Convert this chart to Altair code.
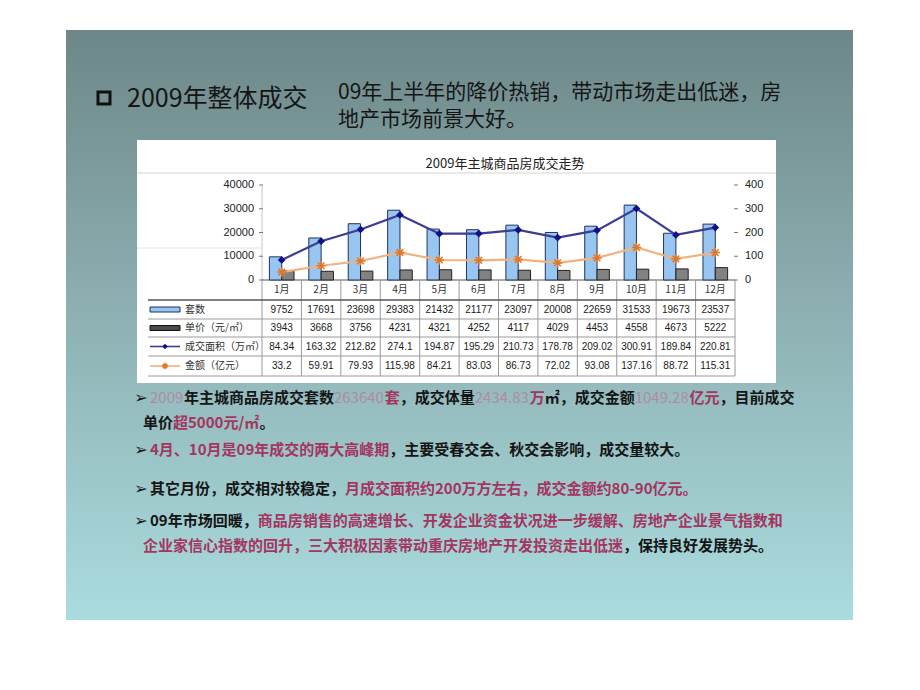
import altair as alt
import pandas as pd

# ---------------- data ----------------
months = ["1月", "2月", "3月", "4月", "5月", "6月", "7月", "8月", "9月", "10月", "11月", "12月"]
taoshu = [9752, 17691, 23698, 29383, 21432, 21177, 23097, 20008, 22659, 31533, 19673, 23537]
danjia = [3943, 3668, 3756, 4231, 4321, 4252, 4117, 4029, 4453, 4558, 4673, 5222]
mianji = [84.34, 163.32, 212.82, 274.1, 194.87, 195.29, 210.73, 178.78, 209.02, 300.91, 189.84, 220.81]
jine = [33.2, 59.91, 79.93, 115.98, 84.21, 83.03, 86.73, 72.02, 93.08, 137.16, 88.72, 115.31]
mianji_text = ["84.34", "163.32", "212.82", "274.1", "194.87", "195.29", "210.73", "178.78", "209.02", "300.91", "189.84", "220.81"]
jine_text = ["33.2", "59.91", "79.93", "115.98", "84.21", "83.03", "86.73", "72.02", "93.08", "137.16", "88.72", "115.31"]
left_ticks = [0, 10000, 20000, 30000, 40000]
right_ticks = [0, 100, 200, 300, 400]
series_names = ["套数", "单价（元/㎡）", "成交面积（万㎡）", "金额（亿元）"]
chart_title = "2009年主城商品房成交走势"
heading = "2009年整体成交"
subheading = ["09年上半年的降价热销，带动市场走出低迷，房", "地产市场前景大好。"]
bullet_lines = [
    [("2009", "n"), ("年主城商品房成交套数", "k"), ("263640", "n"), ("套", "p"), ("，成交体量", "k"),
     ("2434.83", "n"), ("万", "p"), ("㎡，成交金额", "k"), ("1049.28", "n"), ("亿元", "p"), ("，目前成交", "k")],
    [("单价", "k"), ("超5000元/㎡", "p"), ("。", "k")],
    [("4月、10月是09年成交的两大高峰期", "p"), ("，主要受春交会、秋交会影响，成交量较大。", "k")],
    [("其它月份，成交相对较稳定，", "k"), ("月成交面积约200万方左右，成交金额约80-90亿元。", "p")],
    [("09年市场回暖，", "k"), ("商品房销售的高速增长、开发企业资金状况进一步缓解、房地产企业景气指数和", "p")],
    [("企业家信心指数的回升，三大积极因素带动重庆房地产开发投资走出低迷", "p"), ("，保持良好发展势头。", "k")],
]

# ---------------- layout ----------------
CJK = "Noto Sans CJK SC"
X0, X1 = 262, 735
Y0, Y1 = 280, 185
row_y = [309.5, 328, 346.5, 366]
hlines = [300, 319, 337, 356, 376]
bullet_pos = [(150, 398, True), (143, 423, False), (150, 450, True), (150, 489, True), (150, 521, True), (143, 546, False)]
styles = {"k": ("#151515", "bold"), "p": ("#A3355F", "bold"), "n": ("#B08CA0", "normal")}
BFS = 15

one = pd.DataFrame({"d": [0]})
xs = alt.Scale(type="band", domain=months, range=[X0, X1], paddingInner=0, paddingOuter=0)
ys_left = alt.Scale(domain=[0, 40000], range=[Y0, Y1], nice=False, zero=True)
ys_right = alt.Scale(domain=[0, 400], range=[Y0, Y1], nice=False, zero=True)
XM = alt.X("month:N", scale=xs, axis=None, sort=months)

STAR = "M-1,0L1,0M0,-1L0,1M-0.7,-0.7L0.7,0.7M-0.7,0.7L0.7,-0.7"


def box(x, x2, y, y2, **mk):
    return alt.Chart(one).mark_rect(**mk).encode(
        x=alt.value(x), x2=alt.value(x2), y=alt.value(y), y2=alt.value(y2))


def hrule(x, x2, y, **mk):
    return alt.Chart(one).mark_rule(**mk).encode(x=alt.value(x), x2=alt.value(x2), y=alt.value(y))


def label(txt, x, y, **mk):
    return alt.Chart(one).mark_text(text=txt, **mk).encode(x=alt.value(x), y=alt.value(y))


def text_width(s, size, bold):
    w = 0.0
    for ch in s:
        if ch.isdigit():
            w += (0.59 if bold else 0.565) * size
        elif ch == ".":
            w += (0.3 if bold else 0.27) * size
        elif ch == "-":
            w += 0.36 * size
        elif ch == "/":
            w += 0.4 * size
        elif ord(ch) < 0x2000:
            w += 0.58 * size
        else:
            w += size
    return w


L = []
# slide background
L.append(box(66, 853, 30, 620, fill=alt.LinearGradient(
    gradient="linear",
    stops=[alt.GradientStop(color="#6D8788", offset=0),
           alt.GradientStop(color="#8CAEB0", offset=0.45),
           alt.GradientStop(color="#AADCDF", offset=1)],
    x1=0, x2=0, y1=0, y2=1)))

# heading
L.append(box(98, 110, 92, 104, fill="transparent", stroke="#101010", strokeWidth=3))
L.append(label(heading, 127, 99, font=CJK, fontSize=25, align="left", baseline="middle", color="#151515"))
L.append(label(subheading[0], 338, 93, font=CJK, fontSize=21, align="left", baseline="middle", color="#151515"))
L.append(label(subheading[1], 338, 120, font=CJK, fontSize=21, align="left", baseline="middle", color="#151515"))

# chart white box
L.append(box(137, 776, 140, 383, fill="white"))
L.append(hrule(137, 776, 173, color="#D4D4D4", strokeWidth=1))
L.append(hrule(137, 262, 248, color="#E4E4E4", strokeWidth=1))
L.append(label(chart_title, 505, 164, font=CJK, fontSize=13, align="center", baseline="middle", color="#222222"))

# axes
L.append(alt.Chart(one).mark_rule(color="#C8C8C8").encode(x=alt.value(X0), y=alt.value(Y1), y2=alt.value(Y0)))
L.append(hrule(X0, X1, Y0, color="#555555", strokeWidth=1))
lt = pd.DataFrame({"t": left_ticks})
rt = pd.DataFrame({"t": right_ticks})
L.append(alt.Chart(lt).mark_text(font="Liberation Sans", fontSize=11, align="right", baseline="middle", color="#222")
         .encode(y=alt.Y("t:Q", scale=ys_left, axis=None), x=alt.value(254), text="t:Q"))
L.append(alt.Chart(lt).mark_rule(color="#777").encode(y=alt.Y("t:Q", scale=ys_left, axis=None), x=alt.value(259), x2=alt.value(263)))
L.append(alt.Chart(rt).mark_text(font="Liberation Sans", fontSize=11, align="left", baseline="middle", color="#222")
         .encode(y=alt.Y("t:Q", scale=ys_right, axis=None), x=alt.value(745), text="t:Q"))
L.append(alt.Chart(rt).mark_rule(color="#777").encode(y=alt.Y("t:Q", scale=ys_right, axis=None), x=alt.value(734), x2=alt.value(738)))

# bars
bars = pd.DataFrame({
    "month": months * 2,
    "series": ["套数"] * 12 + ["单价"] * 12,
    "value": taoshu + danjia,
})
L.append(alt.Chart(bars).mark_bar(strokeWidth=1).encode(
    x=XM,
    xOffset=alt.XOffset("series:N", scale=alt.Scale(domain=["套数", "单价"], paddingInner=0, paddingOuter=0.6), sort=["套数", "单价"]),
    y=alt.Y("value:Q", scale=ys_left, axis=None),
    color=alt.Color("series:N", scale=alt.Scale(domain=["套数", "单价"], range=["#99C6F0", "#828282"]), legend=None),
    stroke=alt.Stroke("series:N", scale=alt.Scale(domain=["套数", "单价"], range=["#1F3360", "#222222"]), legend=None),
))

lines = pd.DataFrame({"month": months, "mianji": mianji, "jine": jine,
                      "taoshu": [str(v) for v in taoshu], "danjia": [str(v) for v in danjia],
                      "mianji_t": mianji_text, "jine_t": jine_text})
L.append(alt.Chart(lines).mark_line(color="#F2B27E", strokeWidth=2.2).encode(
    x=XM, y=alt.Y("jine:Q", scale=ys_right, axis=None)))
L.append(alt.Chart(lines).mark_point(shape=STAR, filled=False, color="#E0782A", strokeWidth=1.5, size=90, opacity=1).encode(
    x=XM, y=alt.Y("jine:Q", scale=ys_right, axis=None)))
L.append(alt.Chart(lines).mark_line(color="#3C3E96", strokeWidth=2.2).encode(
    x=XM, y=alt.Y("mianji:Q", scale=ys_right, axis=None)))
L.append(alt.Chart(lines).mark_point(shape="diamond", filled=True, color="#0F108A", size=60, opacity=1).encode(
    x=XM, y=alt.Y("mianji:Q", scale=ys_right, axis=None)))

# table
mdf = pd.DataFrame({"month": months})
L.append(alt.Chart(mdf).mark_rule(color="#9A9A9A", strokeWidth=1).encode(
    x=alt.X("month:N", scale=xs, axis=None, bandPosition=0), y=alt.value(Y0), y2=alt.value(hlines[-1])))
L.append(alt.Chart(mdf).transform_filter(alt.datum.month == months[-1]).mark_rule(color="#9A9A9A", strokeWidth=1).encode(
    x=alt.X("month:N", scale=xs, axis=None, bandPosition=1), y=alt.value(Y0), y2=alt.value(hlines[-1])))
for i, hy in enumerate(hlines):
    L.append(hrule(148, X1, hy, color="#555555" if i == 0 else "#9A9A9A", strokeWidth=1.3 if i == 0 else 1))
L.append(alt.Chart(mdf).mark_text(font=CJK, fontSize=10, baseline="middle", color="#333").encode(
    x=XM, y=alt.value(290), text="month:N"))
for r, col in enumerate(["taoshu", "danjia", "mianji_t", "jine_t"]):
    L.append(alt.Chart(lines).mark_text(font="Liberation Sans", fontSize=10, baseline="middle", color="#1A1A1A").encode(
        x=XM, y=alt.value(row_y[r]), text=f"{col}:N"))
    L.append(label(series_names[r], 185, row_y[r], font=CJK, fontSize=10, align="left", baseline="middle", color="#333"))
# legend keys
L.append(box(150, 180, row_y[0] - 2.5, row_y[0] + 2.5, fill="#99C6F0", stroke="#1F3360", strokeWidth=1))
L.append(box(150, 180, row_y[1] - 2.5, row_y[1] + 2.5, fill="#4A4A4A", stroke="#111111", strokeWidth=1))
L.append(hrule(150, 180, row_y[2], color="#3C3E96", strokeWidth=1.6))
L.append(alt.Chart(one).mark_point(shape="diamond", filled=True, color="#0F108A", size=30, opacity=1).encode(
    x=alt.value(165), y=alt.value(row_y[2])))
L.append(hrule(150, 180, row_y[3], color="#F2B27E", strokeWidth=1.6))
L.append(alt.Chart(one).mark_point(shape=STAR, filled=False, color="#E0782A", size=40, strokeWidth=1.4, opacity=1).encode(
    x=alt.value(165), y=alt.value(row_y[3])))

# bullets
for (bx, by, arrow), runs in zip(bullet_pos, bullet_lines):
    if arrow:
        L.append(label("➢", 141, by, font="DejaVu Sans", fontSize=16, fontWeight="bold", align="center", baseline="middle", color="#151515"))
    x = bx
    for txt, st in runs:
        col, wt = styles[st]
        L.append(label(txt, x, by, font=CJK, fontSize=BFS, fontWeight=wt, align="left", baseline="middle", color=col))
        x += text_width(txt, BFS, wt == "bold")

chart = alt.layer(*L).properties(
    width=920, height=690, background="white", padding=0,
    autosize=alt.AutoSizeParams(type="none"),
).resolve_scale(y="independent", color="independent", stroke="independent").configure_view(stroke=None)

chart.save("out.html", embed_options={"renderer": "svg", "actions": False})
